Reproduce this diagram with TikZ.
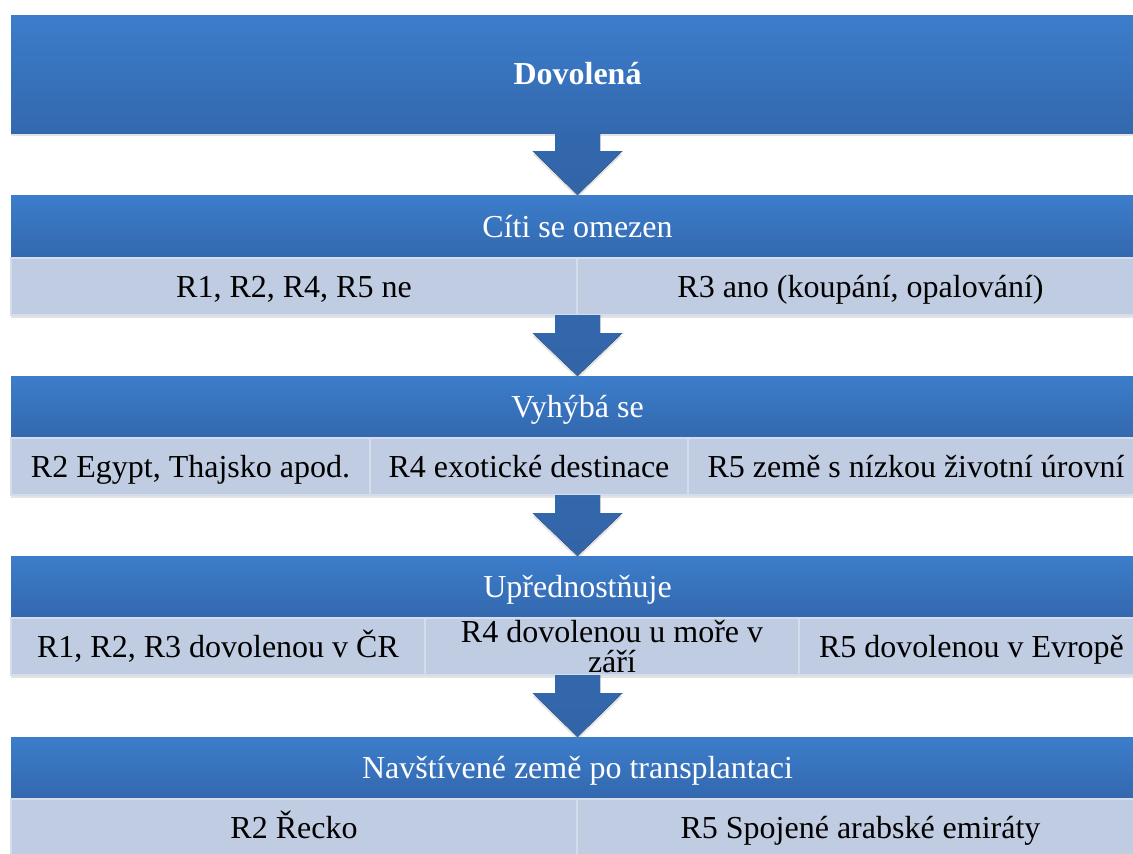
\documentclass[tikz,border=0pt]{standalone}
\usepackage{fontspec}
\setmainfont{Liberation Serif}
\usetikzlibrary{positioning,calc,shadows}
\definecolor{dvtop}{HTML}{3C7DCB}
\definecolor{dvbot}{HTML}{3368AE}
\definecolor{dvcell}{HTML}{C0CCE2}
\definecolor{dvline}{HTML}{D5DDEC}
\definecolor{dvarrow}{HTML}{3264A7}
\tikzset{
  shd/.style={drop shadow={shadow xshift=0pt, shadow yshift=-3pt, opacity=.22}},
  hd/.style={shd, top color=dvtop, bottom color=dvbot, text=white, minimum width=1133pt, inner sep=0pt, outer sep=0pt,
    font=\fontsize{32}{30}\selectfont, text height=21pt, text depth=0pt},
  cl/.style={shd, fill=dvcell, draw=dvline, line width=1.5pt, minimum height=57pt, inner sep=0pt, outer sep=0pt,
    align=center, font=\fontsize{32}{30}\selectfont, text height=21pt, text depth=0pt},
  blkarr/.style={shd, top color=dvarrow!85!dvtop, bottom color=dvarrow},
}
\begin{document}
\begin{tikzpicture}[x=1pt,y=-1pt]
  \path[use as bounding box, fill=white] (0,0) rectangle (1133,854);
  \clip (0,0) rectangle (1133,854);
  % top
  \node[hd, minimum height=118pt, font=\bfseries\fontsize{32}{30}\selectfont] (dov) at (577.5,74) {Dovolená};
  % row 2
  \node[hd, minimum height=63pt] (omez) at (577.5,226.5) {Cíti se omezen};
  \node[cl, minimum width=566pt, below right=0pt of omez.south west] (omez1) {R1, R2, R4, R5 ne};
  \node[cl, minimum width=567pt, right=0pt of omez1] (omez2) {R3 ano (koupání, opalování)};
  % row 3
  \node[hd, minimum height=62pt] (vyh) at (577.5,407) {Vyhýbá se};
  \node[cl, minimum width=359pt, below right=0pt of vyh.south west] (vyh1) {R2 Egypt, Thajsko apod.};
  \node[cl, minimum width=318pt, right=0pt of vyh1] (vyh2) {R4 exotické destinace};
  \node[cl, minimum width=456pt, right=0pt of vyh2] (vyh3) {R5 země s nízkou životní úrovní};
  % row 4
  \node[hd, minimum height=62pt] (upr) at (577.5,587) {Upřednostňuje};
  \node[cl, minimum width=414pt, below right=0pt of upr.south west] (upr1) {R1, R2, R3 dovolenou v ČR};
  \node[cl, minimum width=374pt, text height=51pt, right=0pt of upr1] (upr2) {R4 dovolenou u moře v\\září};
  \node[cl, minimum width=345pt, right=0pt of upr2] (upr3) {R5 dovolenou v Evropě};
  % row 5
  \node[hd, minimum height=62pt] (nav) at (577.5,768) {Navštívené země po transplantaci};
  \node[cl, minimum width=566pt, below right=0pt of nav.south west] (nav1) {R2 Řecko};
  \node[cl, minimum width=567pt, right=0pt of nav1] (nav2) {R5 Spojené arabské emiráty};
  % block arrows
  \foreach \a/\b in {dov/omez, omez1/vyh, vyh1/upr, upr1/nav}
    \fill[blkarr] let \p1=(\a.south), \p2=(\b.north) in
      (\x2-22.5pt,\y1) -- (\x2+22.5pt,\y1) -- (\x2+22.5pt,\y1-18pt) -- (\x2+45pt,\y1-18pt)
      -- (\x2,\y2) -- (\x2-45pt,\y1-18pt) -- (\x2-22.5pt,\y1-18pt) -- cycle;
\end{tikzpicture}
\end{document}
